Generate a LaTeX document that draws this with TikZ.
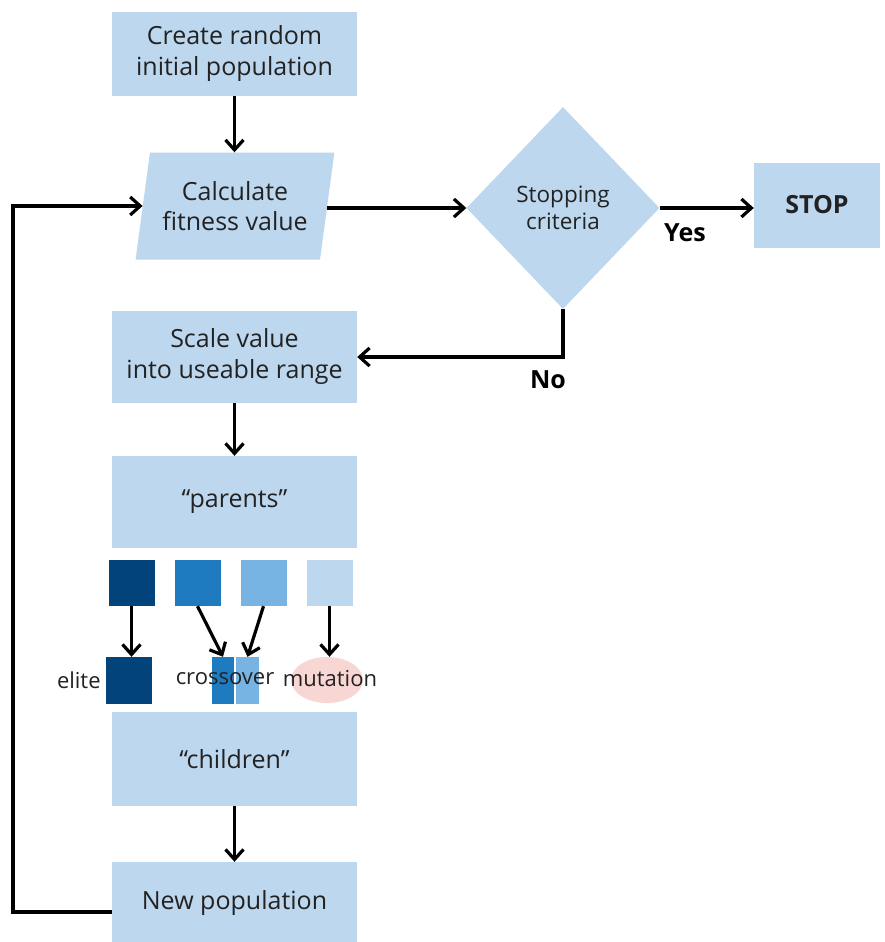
\documentclass[tikz,border=0pt]{standalone}
\usepackage{fontspec}
\setmainfont{Open Sans}
\usetikzlibrary{shapes.geometric,arrows.meta}
\definecolor{boxblue}{HTML}{BDD7EE}
\definecolor{sqA}{HTML}{03437B}
\definecolor{sqB}{HTML}{1F7BC0}
\definecolor{sqC}{HTML}{78B4E3}
\definecolor{sqD}{HTML}{BDD7EE}
\definecolor{pinkish}{HTML}{F8D6D3}
\definecolor{txt}{HTML}{222222}
\begin{document}
\begin{tikzpicture}[x=1pt,y=-1pt,
  box/.style={fill=boxblue, draw=none, minimum width=245pt, inner sep=0pt, align=center, text=txt, font=\fontsize{25}{31}\selectfont},
  trap/.style={shape=trapezium, trapezium left angle=76, trapezium right angle=104, trapezium stretches=true, fill=boxblue, minimum width=199pt, minimum height=107pt, inner sep=0pt, align=center, text=txt, font=\fontsize{25}{30}\selectfont},
  dia/.style={shape=diamond, fill=boxblue, minimum width=193pt, minimum height=202pt, inner sep=0pt, align=center, text=txt, font=\fontsize{22.5}{27}\selectfont},
  sq/.style={minimum width=46pt, minimum height=46pt, inner sep=0pt, draw=none},
  lbl/.style={text=txt, inner sep=0pt, font=\fontsize{22}{26}\selectfont},
  bold/.style={text=black, inner sep=0pt, font=\fontsize{25}{30}\selectfont\bfseries},
  arr/.style={line width=3.2pt, -{Straight Barb[length=10pt,width=18pt,line width=3.2pt]}},
  ln/.style={line width=3.2pt}]
\useasboundingbox (0,0) rectangle (885,942);
\fill[white] (0,0) rectangle (885,942);
% main boxes
\node[box, minimum height=84pt] (create) at (234.5,54) {Create random\\initial population};
\node[trap] (calc) at (235,206) {Calculate\\fitness value};
\node[dia] (dia) at (563,208) {Stopping\\criteria};
\node[box, minimum width=126pt, minimum height=85pt, font=\fontsize{25}{30}\selectfont\bfseries] (stop) at (817,205) {STOP};
\node[box, minimum height=92pt] (scale) at (234.5,357) {Scale value\\into useable range};
\node[box, minimum height=92pt] (parents) at (234.5,502) {“parents”};
\node[box, minimum height=94pt] (children) at (234.5,759) {“children”};
\node[box, minimum height=82pt] (newpop) at (234.5,903) {New population};
% parent squares
\node[sq, fill=sqA] (p1) at (131.5,583) {};
\node[sq, fill=sqB] (p2) at (197.5,583) {};
\node[sq, fill=sqC] (p3) at (263.5,583) {};
\node[sq, fill=sqD] (p4) at (329.5,583) {};
% children parts
\node[sq, fill=sqA, minimum height=47pt] (e1) at (129,680.5) {};
\node[sq, fill=sqB, minimum width=22pt, minimum height=47pt] (c1) at (223,680.5) {};
\node[sq, fill=sqC, minimum width=23pt, minimum height=47pt] (c2) at (247.5,680.5) {};
\node[ellipse, fill=pinkish, minimum width=72pt, minimum height=46pt, inner sep=0pt] (m) at (327,680) {};
\node[lbl, anchor=east] (elite) at ([xshift=-5pt]e1.west) {elite};
\node[lbl] (cross) at (225,679) {crossover};
\node[lbl] (mut) at (330,679) {mutation};
% connectors
\draw[arr] (create.south) -- (create.south |- calc.north);
\draw[arr] (calc.east |- 0,208) -- (dia.west);
\draw[arr] (dia.east) -- (dia.east -| stop.west);
\draw[arr] (dia.south) |- (scale.east);
\draw[arr] (scale.south) -- (parents.north);
\draw[arr] (p1.south) -- (p1.south |- e1.north);
\draw[arr] (p2.south) -- (c1.north);
\draw[arr] (p3.south) -- (c2.north);
\draw[arr] (p4.south) -- (p4.south |- m.north);
\draw[arr] (children.south) -- (newpop.north);
\coordinate (lp) at (13,0);
\draw[arr] ([yshift=-9pt]newpop.west) -| (lp |- calc.west) -- (calc.west);
% labels
\node[bold] (yes) at (685,233) {Yes};
\node[bold] (no) at (548,380) {No};
\end{tikzpicture}
\end{document}
